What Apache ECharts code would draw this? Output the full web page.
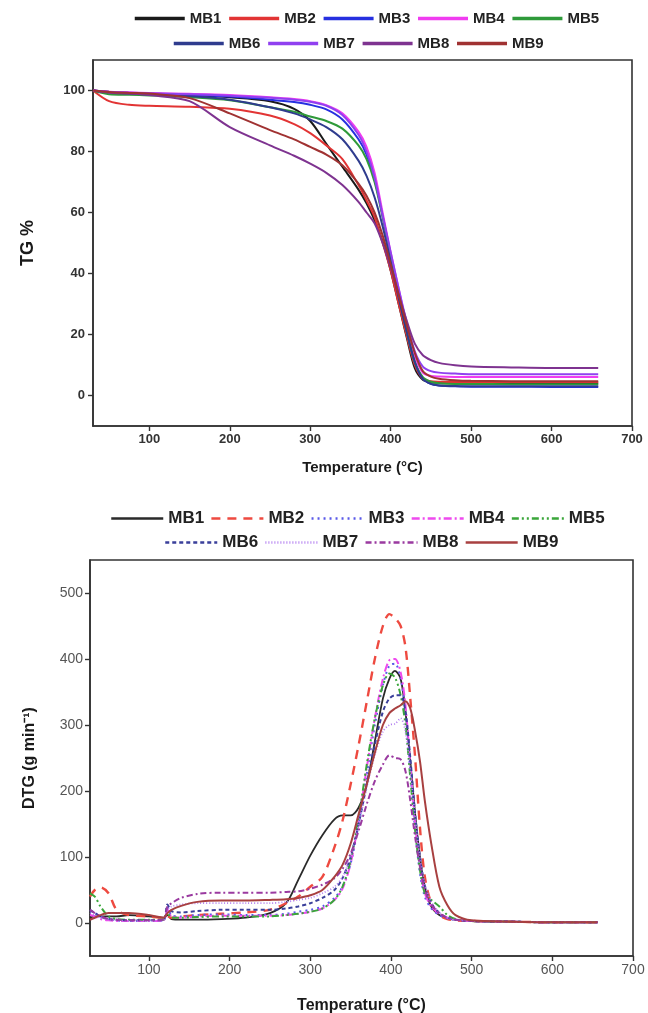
<!DOCTYPE html>
<html><head><meta charset="utf-8">
<script src="https://cdn.jsdelivr.net/npm/echarts@6/dist/echarts.min.js"></script>
<style>html,body{margin:0;padding:0;background:#fff;}#tg{width:648px;height:500px;}#dtg{width:648px;height:513px;}</style>
</head><body><div id="tg"></div><div id="dtg"></div>
<script>
const names = ['MB1','MB2','MB3','MB4','MB5','MB6','MB7','MB8','MB9'];
const xTicks = [100,200,300,400,500,600,700];
const tgYTicks = [0,20,40,60,80,100];
const dtgYTicks = [0,100,200,300,400,500];

// TG (%) vs temperature
const tgTemp = [30,50,75,100,150,200,250,280,300,320,340,360,370,380,390,400,410,420,430,440,450,460,480,500,550,600,658];
const tgMB1 = [100,99.6,99.2,99,98.5,97.8,96.5,94,90,82.5,75,67.5,63,57.5,50.5,41,30,19,9,5.2,4.4,4.1,4,4,3.9,3.9,3.9];
const tgMB2 = [100,96.5,95.3,95,94.7,94,91.8,89,86,82,77.5,69,64,58.5,50,41,30,19.5,10,5.5,4.7,4.5,4.4,4.4,4.4,4.4,4.4];
const tgMB3 = [100,99.5,99.2,99,98.6,98,97,96.2,95.3,93.8,90.5,84,79,71,59,46,33,21,11,5.5,3.8,3.3,3.0,2.9,2.9,2.8,2.8];
const tgMB4 = [100,99.6,99.4,99.2,98.9,98.5,97.8,97.2,96.5,95.2,92.5,86.5,81.5,73,60,47,35,23,13,7.5,6.4,6.2,6.1,6.1,6.1,6.1,6.1];
const tgMB5 = [100,98.8,98.6,98.4,97.8,96.8,94.5,93,91.5,90,87.5,82,77.5,70,58.5,46,33,21,11,6,4.5,4.0,3.8,3.8,3.7,3.7,3.7];
const tgMB6 = [100,99.4,99,98.8,98.2,97,94.5,92.5,90.5,88,84,77,72,65,55.5,44,32,21,11,5.5,3.8,3.3,3.1,3.0,3.0,3.0,3.0];
const tgMB7 = [100,99.5,99.3,99.1,98.8,98.3,97.6,97,96.3,95,92,85.5,80,71.5,59,47,35,24,14.5,9.5,8,7.5,7.2,7.0,7.0,7.0,7.0];
const tgMB8 = [100,99.3,99,98.5,96.5,88,82,78.6,76,73,69,63.5,60,56.5,50,42,33,24.5,17,13.2,11.6,10.7,9.9,9.5,9.2,9.0,9.0];
const tgMB9 = [100,99.5,99.2,99,97.5,92.5,87,84,81.5,79,75.5,69.5,65.5,60,52.5,43,33,23,14,8,6.2,5.5,5.0,4.8,4.7,4.7,4.7];

// DTG (g min-1) vs temperature
const dtgTemp = [27,33,40,50,60,75,100,118,123,128,140,160,190,220,250,270,285,300,315,330,340,350,360,370,380,390,398,405,412,418,424,430,436,442,450,460,470,480,500,550,600,656];
const dtgMB1 = [8,10,10,10,10,12,10,8,12,6,5,5,6,8,15,30,65,102,133,157,163,163,175,210,275,340,370,382,370,320,245,165,100,55,25,12,7,5,3,2,1,1];
const dtgMB2 = [40,50,54,45,20,12,10,8,10,8,10,12,14,16,20,30,40,55,70,115,155,210,270,335,400,450,468,462,450,418,340,250,144,70,30,12,6,4,3,2,1,1];
const dtgMB3 = [18,15,10,6,4,3,3,4,25,12,10,12,13,12,12,14,17,20,25,38,55,90,150,225,300,360,390,393,370,320,230,140,75,40,22,12,7,5,3,2,1,1];
const dtgMB4 = [12,10,6,4,3,3,3,4,20,10,8,10,11,11,11,12,14,17,22,35,52,90,155,235,310,370,398,400,380,330,240,150,85,45,25,14,8,5,3,2,1,1];
const dtgMB5 = [45,40,25,10,6,5,5,5,15,8,8,9,10,10,10,12,14,17,22,35,55,95,160,240,310,360,378,372,345,300,220,140,80,45,35,25,12,6,3,2,1,1];
const dtgMB6 = [20,15,10,6,5,4,4,5,28,18,16,18,20,20,20,22,25,30,38,50,68,100,150,210,270,320,340,345,345,320,250,165,100,55,30,15,8,5,3,2,1,1];
const dtgMB7 = [15,12,8,5,4,3,3,5,20,25,28,30,30,30,30,32,35,38,45,55,70,100,150,205,255,290,300,302,310,290,230,160,100,60,32,16,8,5,3,2,1,1];
const dtgMB8 = [20,15,10,6,5,4,4,5,25,30,38,44,46,46,46,47,48,52,58,68,82,105,140,180,215,240,254,250,248,230,185,130,85,50,28,15,8,5,3,2,1,1];
const dtgMB9 = [5,8,12,15,15,15,12,8,15,20,26,32,34,34,35,36,38,42,50,70,88,120,165,210,258,300,318,325,330,336,325,290,245,185,120,55,27,12,4,2,1,1];

const tgSets = [tgMB1,tgMB2,tgMB3,tgMB4,tgMB5,tgMB6,tgMB7,tgMB8,tgMB9];
const dtgSets = [dtgMB1,dtgMB2,dtgMB3,dtgMB4,dtgMB5,dtgMB6,dtgMB7,dtgMB8,dtgMB9];

const tgColors = ['#1a1a1a','#e23434','#2630e0','#f03cf0','#2f9a3a','#2f3c8e','#9040f0','#7e3390','#a03232'];
const dtgColors = ['#2a2a2a','#ee4a40','#5a5ae8','#ee4aee','#3aa63a','#3a3f9a','#b27ef0','#9a3aa0','#a84040'];
const dtgTypes = ['solid',[9,7],[2,4],[8,3,2,3],[7,3,2,3,2,3],[4,3],[1,2],[6,3,2,3],'solid'];
const dtgWidths = [1.8,2.4,2,2,2,2,1.8,2,2];

const FONT = 'Arial, "Liberation Sans", sans-serif';

function axisX(nameGap, nameSize, labelStyle, min) {
  return {
    type:'value', min:min, max:700,
    name:'Temperature (°C)', nameLocation:'middle', nameGap:nameGap,
    nameTextStyle:{fontFamily:FONT, fontWeight:'bold', fontSize:nameSize, color:'#1a1a1a'},
    axisLine:{show:true, onZero:false, lineStyle:{color:'#333', width:1.6}},
    axisTick:{show:true, customValues:xTicks, length:5, lineStyle:{color:'#333', width:1.4}},
    axisLabel:Object.assign({customValues:xTicks, fontFamily:FONT}, labelStyle),
    splitLine:{show:false}
  };
}
function legendRow(data, left, top, fs, iw, gap, lw) {
  return {
    data:data, left:left, top:top, orient:'horizontal', padding:0,
    itemWidth:iw, itemHeight:14, itemGap:gap,
    textStyle:{fontFamily:FONT, fontWeight:'bold', fontSize:fs, color:'#222'},
    itemStyle:{opacity:0},
    lineStyle:{width:lw}
  };
}

const tgChart = echarts.init(document.getElementById('tg'), null, {renderer:'canvas'});
tgChart.setOption({
  animation:false,
  backgroundColor:'#fff',
  grid:{left:93, right:16, top:60, height:366, outerBoundsMode:'none', show:true, borderColor:'#333', borderWidth:1.6, backgroundColor:'transparent'},
  legend:[
    legendRow(names.slice(0,5), 133, 11, 15, 50, 6, 3.5),
    legendRow(names.slice(5), 172, 36, 15, 50, 6, 3.5)
  ],
  xAxis: axisX(34, 15, {fontWeight:'bold', fontSize:13, color:'#333', margin:7}, 30),
  yAxis:{
    type:'value', min:-10, max:110,
    name:'TG %', nameLocation:'middle', nameGap:56,
    nameTextStyle:{fontFamily:FONT, fontWeight:'bold', fontSize:18, color:'#1a1a1a'},
    axisLine:{show:true, onZero:false, lineStyle:{color:'#333', width:1.6}},
    axisTick:{show:true, customValues:tgYTicks, length:5, lineStyle:{color:'#333', width:1.4}},
    axisLabel:{customValues:tgYTicks, fontFamily:FONT, fontWeight:'bold', fontSize:13, color:'#333', margin:8},
    splitLine:{show:false}
  },
  series: names.map((n,i)=>({
    name:n, type:'line', symbol:'none', smooth:0.3,
    data: tgTemp.map((t,k)=>[t, tgSets[i][k]]),
    itemStyle:{color:tgColors[i]},
    lineStyle:{color:tgColors[i], width:2}
  }))
});

const dtgChart = echarts.init(document.getElementById('dtg'), null, {renderer:'canvas'});
dtgChart.setOption({
  animation:false,
  backgroundColor:'#fff',
  grid:{left:90, right:15, top:60, height:396, outerBoundsMode:'none', show:true, borderColor:'#333', borderWidth:1.6, backgroundColor:'transparent'},
  legend:[
    legendRow(names.slice(0,5), 110, 10, 17, 52, 6, 2.5),
    legendRow(names.slice(5), 164, 34, 17, 52, 6, 2.5)
  ],
  xAxis: axisX(42, 16, {fontWeight:'normal', fontSize:14, color:'#555', margin:7}, 27),
  yAxis:{
    type:'value', min:-50, max:550,
    name:'DTG (g min⁻¹)', nameLocation:'middle', nameGap:52,
    nameTextStyle:{fontFamily:FONT, fontWeight:'bold', fontSize:16, color:'#1a1a1a'},
    axisLine:{show:true, onZero:false, lineStyle:{color:'#333', width:1.6}},
    axisTick:{show:true, customValues:dtgYTicks, length:5, lineStyle:{color:'#333', width:1.4}},
    axisLabel:{customValues:dtgYTicks, fontFamily:FONT, fontSize:14, color:'#555', margin:7},
    splitLine:{show:false}
  },
  series: names.map((n,i)=>({
    name:n, type:'line', symbol:'none', smooth:0.3,
    data: dtgTemp.map((t,k)=>[t, dtgSets[i][k]]),
    itemStyle:{color:dtgColors[i]},
    lineStyle:{color:dtgColors[i], width:dtgWidths[i], type:dtgTypes[i]}
  }))
});
</script>
</body></html>
